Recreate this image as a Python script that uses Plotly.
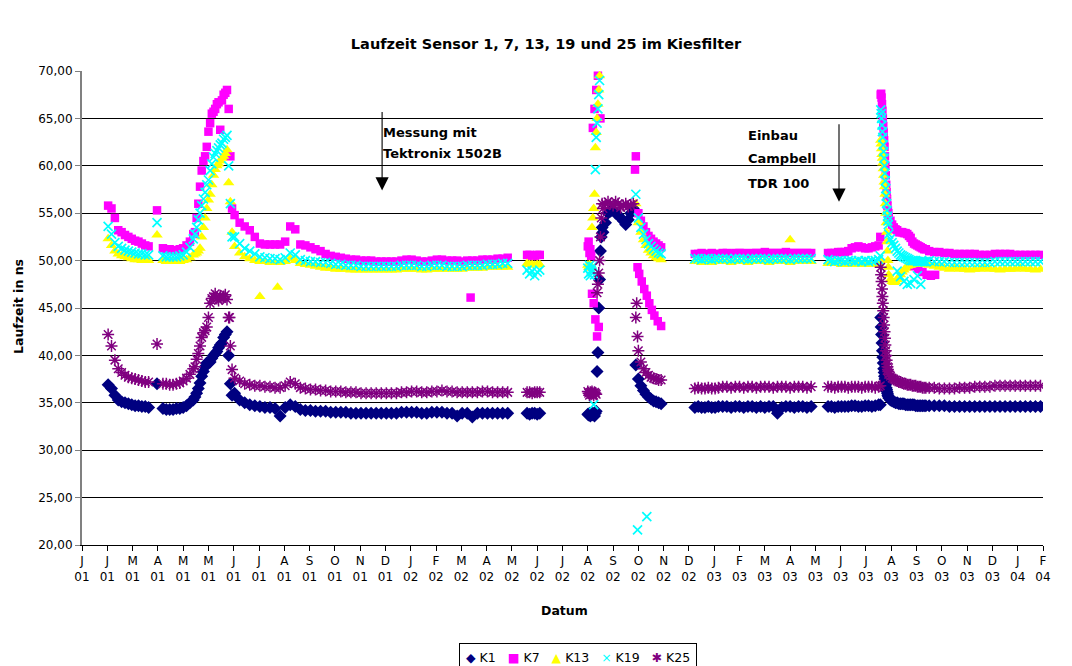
import pandas as pd
import plotly.graph_objects as go

# Measurement campaigns: first reading and reading interval of each block.
CAMPAIGN_START = ["2001-02-01", "2001-03-31", "2001-04-07", "2001-05-15", "2001-07-01",
                  "2002-06-13", "2002-08-24", "2002-09-11", "2002-12-29", "2003-01-31",
                  "2003-06-05", "2003-08-06", "2003-08-16", "2003-10-03"]
CAMPAIGN_STEP = ["4D", "1D", "4D", "2D", "6D", "3D", "1D", "3D", "4D", "5D", "4D", "12h", "2D", "6D"]

# Laufzeit in ns per sensor, one list per campaign (None = no valid reading)
K1 = [
    [36.9, 36.5, 35.8, 35.3, 35.1, 35.0, 34.9, 34.8, 34.7, 34.7, 34.6, 34.6, 34.5],
    [37.0],
    [34.4, 34.3, 34.3, 34.3, 34.4, 34.4, 34.5, 34.7, 35.0, 35.3],
    [35.6, 36.0, 36.5, 37.1, 37.8, 38.3, 38.8, 39.2, 39.2, 39.3, 39.7, 40.0, 40.2, 40.4, 40.8,
     41.1, 41.3, 41.9, 42.2, 42.5, 40.0, 37.0, 35.8],
    [36.0, 35.3, 35.0, 34.8, 34.7, 34.6, 34.5, 34.5, 34.4, 33.6, 34.5, 34.8, 34.6, 34.3, 34.2,
     34.2, 34.1, 34.1, 34.1, 34.0, 34.0, 34.0, 34.0, 33.9, 33.9, 33.9, 33.9, 33.9, 33.9, 33.9,
     33.9, 33.9, 33.9, 34.0, 34.0, 34.0, 34.0, 33.9, 33.9, 34.0, 34.0, 34.0, 33.9, 33.9, 33.6,
     33.9, 33.9, 33.5, 33.9, 33.9, 33.9, 33.9, 33.9, 33.9, 33.9],
    [33.9, 33.8, 33.9, 33.9, 33.8, 33.9],
    [33.8, 33.7, 33.9, 33.6, 33.8, 33.7, 33.9, 33.8, 33.6, 33.9, 34.1, 38.3, 40.3, 45.0, 48.0,
     51.0, 52.5, 53.5],
    [53.0, 54.0, 55.0, 55.2, 55.3, 55.0, 54.8, 54.5, 54.2, 53.8, 54.3, 55.0, 55.5, 39.0, 37.5,
     36.8, 36.3, 35.9, 35.6, 35.4, 35.2, 35.1, 35.0, 34.9],
    [34.5, 34.6, 34.5, 34.5, 34.6, 34.5, 34.5, 34.6],
    [34.6, 34.6, 34.5, 34.6, 34.6, 34.5, 34.6, 34.6, 34.5, 34.6, 34.5, 34.6, 34.6, 33.9, 34.5,
     34.6, 34.6, 34.5, 34.6, 34.6, 34.5, 34.6],
    [34.6, 34.6, 34.5, 34.6, 34.6, 34.6, 34.6, 34.7, 34.7, 34.6, 34.6, 34.7, 34.7, 34.6, 34.7, 34.8],
    [34.8, 44.0, 43.0, 42.2, 41.3, 40.5, 39.8, 39.2, 38.6, 38.2, 37.8, 37.5, 37.2, 36.9, 36.6,
     36.4, 36.2, 36.0, 35.8, 35.7],
    [35.5, 35.3, 35.2, 35.1, 35.0, 35.0, 34.9, 34.9, 34.9, 34.9, 34.8, 34.8, 34.8, 34.8, 34.8,
     34.8, 34.7, 34.7, 34.7, 34.7, 34.7, 34.7, 34.7],
    [34.7, 34.7, 34.7, 34.7, 34.6, 34.6, 34.6, 34.6, 34.6, 34.6, 34.6, 34.6, 34.6, 34.6, 34.6,
     34.6, 34.6, 34.6, 34.6, 34.6, 34.6, 34.6, 34.6],
]

K7 = [
    [55.8, 55.5, 54.5, 53.2, 53.0, 52.7, 52.5, 52.3, 52.1, 52.0, 51.8, 51.6, 51.5],
    [55.3],
    [51.3, 51.2, 51.2, 51.1, 51.1, 51.2, 51.3, 51.6, 52.0, 52.8],
    [53.0, 54.5, 56.0, 57.8, 59.5, 60.5, 61.0, 62.0, 63.6, 64.5, 65.5, 65.7, 66.0, 66.5, 66.7,
     63.8, 66.9, 67.5, 67.7, 68.0, 66.0, 61.0, 55.5],
    [54.8, 54.0, 53.6, 53.2, 52.5, 51.8, 51.7, 51.7, 51.7, 51.7, 52.0, 53.6, 53.3, 51.7, 51.6,
     51.4, 51.2, 51.0, 50.7, 50.5, 50.4, 50.3, 50.2, 50.1, 50.1, 50.0, 50.0, 50.0, 49.9, 49.9,
     49.9, 49.9, 49.9, 50.0, 50.1, 50.1, 50.0, 49.9, 49.9, 50.0, 50.1, 50.1, 50.0, 50.0, 50.0,
     49.9, 50.0, 50.0, 50.0, 50.1, 50.1, 50.1, 50.2, 50.2, 50.3],
    [50.6, 50.6, 50.5, 50.5, 50.6, 50.6],
    [51.5, 52.0, 50.8, 51.2, 50.5, 46.5, 64.0, 45.5, 66.0, 43.8, 68.0, 42.0, 69.5, 43.0, 70.5,
     65.0, None, None],
    [None, None, None, None, None, None, None, None, None, None, None, None, None, 61.0, 55.0,
     54.2, 53.6, 53.0, 52.6, 52.3, 52.0, 51.8, 51.6, 51.4],
    [50.7, 50.7, 50.8, 50.7, 50.7, 50.8, 50.7, 50.7],
    [50.8, 50.8, 50.7, 50.8, 50.8, 50.8, 50.7, 50.8, 50.8, 50.8, 50.9, 50.8, 50.8, 50.8, 50.8,
     50.9, 50.8, 50.8, 50.8, 50.8, 50.8, 50.8],
    [50.8, 50.8, 50.8, 50.9, 50.9, 50.9, 51.0, 51.3, 51.4, 51.5, 51.4, 51.3, 51.3, 51.4, 51.5, 51.6],
    [52.5, 67.5, 67.6, 67.2, 66.5, 65.8, 65.0, 64.2, 63.5, 62.7, 62.0, 61.0, 60.0, 59.0, 58.0,
     57.2, 56.5, 55.8, 55.3, 55.0],
    [54.6, 54.2, 53.8, 53.5, 53.3, 53.2, 53.0, 53.0, 53.0, 52.9, 52.9, 52.8, 52.6, 52.4, 52.0,
     51.8, 51.7, 51.6, 51.5, 51.4, 51.3, 51.2, 51.2],
    [51.0, 50.9, 50.9, 50.8, 50.8, 50.7, 50.7, 50.7, 50.7, 50.7, 50.6, 50.6, 50.6, 50.7, 50.7,
     50.7, 50.7, 50.6, 50.6, 50.6, 50.6, 50.6, 50.6],
]

K13 = [
    [52.3, 51.6, 51.0, 50.7, 50.5, 50.4, 50.3, 50.2, 50.1, 50.1, 50.0, 50.0, 50.0],
    [52.7],
    [50.0, 49.9, 49.9, 49.9, 49.9, 49.9, 50.0, 50.1, 50.3, 50.6],
    [50.7, 50.8, 51.0, 51.3, 52.5, 53.5, 54.5, 55.5, 56.4, 57.0, 58.0, 59.0, 59.6, 60.0, 60.2,
     60.5, 60.8, 61.0, 61.3, 61.7, 58.2, 56.2, 53.0],
    [51.5, 50.8, 50.4, 50.2, 50.0, 49.9, 49.9, 49.8, 49.8, 49.8, 49.9, 50.2, 50.0, 49.7, 49.6,
     49.5, 49.4, 49.3, 49.2, 49.2, 49.1, 49.1, 49.1, 49.0, 49.0, 49.0, 49.0, 49.0, 49.0, 49.0,
     49.0, 49.0, 49.0, 49.1, 49.1, 49.1, 49.1, 49.0, 49.0, 49.1, 49.1, 49.1, 49.1, 49.1, 49.1,
     49.1, 49.2, 49.2, 49.2, 49.2, 49.3, 49.3, 49.3, 49.3, 49.3],
    [49.7, 49.6, 49.6, 49.5, 49.6, 49.6],
    [49.5, 49.3, 49.6, 49.2, 49.4, 53.5, 54.5, 55.5, 57.0, 61.9, 63.5, 65.0, 66.5, 68.0, 69.5,
     None, None, None],
    [None, None, None, None, None, None, None, None, None, None, None, None, None, 56.0, 54.0,
     53.0, 52.2, 51.6, 51.1, 50.8, 50.5, 50.3, 50.2, 50.1],
    [49.9, 49.9, 49.8, 49.9, 49.9, 49.8, 49.9, 49.9],
    [49.9, 49.9, 49.8, 49.9, 49.9, 49.9, 49.8, 49.9, 49.9, 49.9, 49.9, 49.8, 49.9, 49.9, 49.9,
     49.9, 49.8, 49.9, 49.9, 49.9, 49.9, 49.9],
    [49.7, 49.7, 49.7, 49.7, 49.6, 49.6, 49.6, 49.6, 49.7, 49.7, 49.6, 49.6, 49.6, 49.6, 49.6, 49.7],
    [50.0, 62.7, 62.3, 61.8, 61.2, 60.8, 60.3, 59.7, 59.0, 58.3, 57.8, 57.0, 56.0, 55.0, 54.0,
     53.0, 52.0, 51.0, 50.0, 49.3],
    [48.5, 48.0, 47.8, 47.7, 47.8, 48.0, 48.2, 48.5, 48.8, 49.0, 49.2, 49.4, 49.5, 49.5, 49.6,
     49.6, 49.6, 49.6, 49.6, 49.6, 49.6, 49.6, 49.6],
    [49.5, 49.4, 49.3, 49.2, 49.1, 49.2, 49.1, 49.1, 49.0, 49.1, 49.1, 49.2, 49.1, 49.1, 49.0,
     49.1, 49.1, 49.1, 49.2, 49.1, 49.1, 49.0, 49.1],
]

K19 = [
    [53.6, 52.8, 51.9, 51.5, 51.3, 51.1, 51.0, 50.9, 50.8, 50.7, 50.7, 50.6, 50.6],
    [54.0],
    [50.5, 50.4, 50.4, 50.4, 50.4, 50.5, 50.6, 50.9, 51.4, 52.3],
    [52.8, 53.5, 54.3, 55.0, 55.8, 56.5, 57.2, 58.0, 58.5, 59.5, 60.2, 60.9, 61.3, 61.6, 61.9,
     62.2, 62.4, 62.8, 63.0, 63.2, 60.0, 56.0, 52.5],
    [52.5, 51.8, 51.3, 51.0, 50.7, 50.4, 50.3, 50.2, 50.2, 50.1, 50.3, 50.8, 50.6, 50.1, 50.0,
     49.9, 49.9, 49.8, 49.8, 49.7, 49.6, 49.6, 49.5, 49.5, 49.5, 49.4, 49.4, 49.4, 49.4, 49.4,
     49.4, 49.4, 49.4, 49.5, 49.5, 49.5, 49.5, 49.4, 49.4, 49.5, 49.5, 49.5, 49.4, 49.4, 49.4,
     49.4, 49.5, 49.5, 49.5, 49.5, 49.6, 49.6, 49.6, 49.7, 49.7],
    [49.0, 48.6, 48.9, 48.4, 48.8, 49.0],
    [49.2, 48.6, 49.5, 48.4, 49.0, 48.8, 49.4, 34.8, 48.5, 59.6, 63.0, 64.5, 66.0, 67.5, 69.0,
     None, None, None],
    [None, None, None, None, None, None, None, None, None, None, None, None, None, 57.0, 54.5,
     53.5, 52.8, 52.2, 51.8, 51.5, 51.2, 51.0, 50.8, 50.7],
    [50.2, 50.2, 50.1, 50.2, 50.2, 50.1, 50.2, 50.2],
    [50.2, 50.2, 50.1, 50.2, 50.2, 50.2, 50.1, 50.2, 50.2, 50.2, 50.2, 50.1, 50.2, 50.2, 50.2,
     50.2, 50.1, 50.2, 50.2, 50.2, 50.2, 50.2],
    [50.1, 50.0, 49.9, 50.0, 50.0, 49.9, 50.0, 50.0, 49.9, 50.0, 49.9, 50.0, 49.9, 50.0, 50.0, 50.1],
    [50.5, 65.9, 65.5, 65.0, 64.3, 63.6, 63.0, 62.2, 61.5, 60.8, 60.0, 59.2, 58.4, 57.6, 56.8,
     56.0, 55.3, 54.7, 54.2, 53.8],
    [52.8, 52.3, 51.9, 51.6, 51.3, 51.0, 50.8, 50.6, 50.5, 50.4, 50.3, 50.2, 50.1, 50.0, 50.0,
     50.0, 50.0, 49.9, 49.9, 49.9, 49.9, 49.9, 49.9],
    [50.0, 49.9, 49.9, 49.9, 49.8, 49.8, 49.8, 49.8, 49.8, 49.8, 49.8, 49.8, 49.8, 49.9, 49.9,
     49.9, 49.9, 49.9, 49.9, 49.9, 49.9, 49.9, 49.9],
]

K25 = [
    [42.2, 41.0, 39.5, 38.6, 38.2, 37.9, 37.7, 37.6, 37.5, 37.4, 37.3, 37.2, 37.2],
    [41.2],
    [37.0, 37.0, 36.9, 36.9, 37.0, 37.1, 37.3, 37.6, 38.0, 38.6],
    [38.8, 39.6, 40.2, 41.0, 41.9, 42.4, 42.6, 43.0, 44.0, 45.5, 46.0, 46.2, 46.5, 46.0, 45.8,
     46.3, 46.0, 46.2, 46.4, 45.9, 44.0, 41.0, 38.5],
    [37.6, 37.3, 37.0, 36.9, 36.8, 36.8, 36.7, 36.7, 36.6, 36.6, 36.8, 37.2, 37.0, 36.6, 36.5,
     36.4, 36.4, 36.3, 36.3, 36.2, 36.2, 36.2, 36.1, 36.1, 36.1, 36.0, 36.0, 36.0, 36.0, 36.0,
     36.0, 36.0, 36.0, 36.1, 36.1, 36.2, 36.2, 36.1, 36.1, 36.2, 36.2, 36.3, 36.2, 36.2, 36.1,
     36.1, 36.1, 36.1, 36.1, 36.2, 36.2, 36.1, 36.1, 36.1, 36.1],
    [36.1, 36.1, 36.0, 36.1, 36.1, 36.1],
    [36.2, 36.0, 35.8, 36.1, 35.9, 36.2, 36.0, 35.8, 36.1, 36.0, 35.9, 46.6, 47.5, 48.7, 50.0,
     52.5, 54.5, 56.0],
    [55.5, 56.0, 56.2, 56.0, 55.8, 56.2, 56.0, 55.6, 55.8, 56.0, 55.7, 55.9, 56.0, 44.0, 40.5,
     39.3, 38.6, 38.2, 37.9, 37.7, 37.6, 37.5, 37.4, 37.4],
    [36.5, 36.6, 36.5, 36.5, 36.6, 36.5, 36.5, 36.6],
    [36.7, 36.7, 36.6, 36.7, 36.7, 36.6, 36.7, 36.7, 36.6, 36.7, 36.7, 36.7, 36.6, 36.7, 36.7,
     36.7, 36.6, 36.7, 36.7, 36.7, 36.6, 36.7],
    [36.7, 36.7, 36.6, 36.7, 36.7, 36.7, 36.6, 36.7, 36.7, 36.7, 36.6, 36.7, 36.7, 36.7, 36.6, 36.7],
    [36.8, 49.3, 48.5, 47.8, 47.0, 46.2, 45.5, 44.7, 44.0, 43.2, 42.5, 41.8, 41.1, 40.5, 40.0,
     39.5, 39.1, 38.8, 38.5, 38.3],
    [38.0, 37.8, 37.6, 37.5, 37.4, 37.3, 37.2, 37.2, 37.1, 37.0, 37.0, 36.9, 36.9, 36.9, 36.8,
     36.8, 36.8, 36.7, 36.7, 36.7, 36.6, 36.6, 36.6],
    [36.6, 36.6, 36.5, 36.5, 36.5, 36.5, 36.6, 36.6, 36.6, 36.7, 36.7, 36.7, 36.7, 36.8, 36.8,
     36.8, 36.8, 36.8, 36.8, 36.8, 36.8, 36.8, 36.8],
]

# Single readings outside the regular schedule (date, value)
K1_EXTRA = []
K7_EXTRA = [("2002-04-07", 46.1), ("2002-10-19", 59.6),
            ("2002-10-22", 49.3), ("2002-10-24", 48.6), ("2002-10-27", 47.8), ("2002-10-30", 47.0),
            ("2002-11-02", 46.3), ("2002-11-05", 45.5), ("2002-11-08", 44.8), ("2002-11-11", 44.2),
            ("2002-11-15", 43.6), ("2002-11-19", 43.1),
            ("2003-09-15", 49.4), ("2003-09-20", 49.1), ("2003-09-25", 48.8), ("2003-09-30", 48.5),
            ("2003-10-05", 48.4), ("2003-10-10", 48.5)]
K13_EXTRA = [("2001-07-31", 46.2), ("2001-08-21", 47.2), ("2003-04-21", 52.2)]
K19_EXTRA = [("2002-10-22", 21.6), ("2002-11-02", 23.0),
             ("2003-08-26", 48.9), ("2003-08-30", 48.3), ("2003-09-03", 47.8), ("2003-09-07", 47.5),
             ("2003-09-11", 47.6), ("2003-09-15", 48.0), ("2003-09-19", 48.4), ("2003-09-23", 47.5)]
K25_EXTRA = [("2001-06-25", 44.0), ("2002-10-21", 45.5), ("2002-10-22", 42.0)]

# Axis ticks: one every 30 days starting 1 Jan 2001
TICK_LABELS = ["J<br>01", "J<br>01", "M<br>01", "A<br>01", "M<br>01", "M<br>01", "J<br>01",
               "J<br>01", "A<br>01", "S<br>01", "O<br>01", "N<br>01", "D<br>01", "J<br>02",
               "F<br>02", "M<br>02", "A<br>02", "M<br>02", "J<br>02", "J<br>02", "A<br>02",
               "S<br>02", "O<br>02", "N<br>02", "D<br>02", "J<br>03", "F<br>03", "M<br>03",
               "A<br>03", "M<br>03", "J<br>03", "J<br>03", "A<br>03", "S<br>03", "O<br>03",
               "N<br>03", "D<br>03", "J<br>04", "F<br>04"]
TICK_VALS = pd.date_range("2001-01-01", periods=len(TICK_LABELS), freq="30D")
X_RANGE = ["2001-01-01", "2004-02-15"]

# Instrument changes marked on the chart
EVENT_TEKTRONIX = "2001-12-23"
EVENT_CAMPBELL = "2003-06-18"

FONT = "'DejaVu Sans', Arial, sans-serif"
NBSP = "\u00a0"


def collect(blocks, extra):
    xs, ys = [], []
    for start, step, vals in zip(CAMPAIGN_START, CAMPAIGN_STEP, blocks):
        dates = pd.date_range(start, periods=len(vals), freq=step)
        for d, v in zip(dates, vals):
            if v is not None:
                xs.append(d)
                ys.append(v)
    for d, v in extra:
        xs.append(pd.Timestamp(d))
        ys.append(v)
    return xs, ys


SERIES = [
    ("K1", K1, K1_EXTRA, "#000080", "diamond", 10, 0, "◆"),
    ("K7", K7, K7_EXTRA, "#FF00FF", "square", 8.5, 0, "■"),
    ("K13", K13, K13_EXTRA, "#FFFF00", "triangle-up", 10, 0, "▲"),
    ("K19", K19, K19_EXTRA, "#00FFFF", "x-thin", 9, 1.7, "×"),
    ("K25", K25, K25_EXTRA, "#800080", "asterisk", 10, 1.5, "✱"),
]

fig = go.Figure()
for name, blocks, extra, color, symbol, size, lw, _ in SERIES:
    xs, ys = collect(blocks, extra)
    fig.add_trace(go.Scatter(
        x=xs, y=ys, mode="markers", name=name, showlegend=False,
        marker=dict(symbol=symbol, size=size, color=color,
                    line=dict(color=color, width=lw)),
    ))

fig.update_layout(
    template="none",
    width=1072, height=666,
    margin=dict(l=82, r=29, t=71, b=121, autoexpand=False),
    paper_bgcolor="white", plot_bgcolor="white",
    separators=",.",
    font=dict(family=FONT, size=12, color="black"),
    title=dict(text="<b>Laufzeit Sensor 1, 7, 13, 19 und 25 im Kiesfilter</b>",
               x=546 / 1072, xanchor="center", y=1 - 44 / 666, yanchor="middle",
               font=dict(size=14.5, family=FONT)),
    showlegend=False,
    xaxis=dict(type="date", range=X_RANGE, tickmode="array", tickvals=TICK_VALS,
               ticktext=TICK_LABELS, ticks="outside", ticklen=5, tickcolor="black",
               showline=True, linecolor="black", linewidth=1, showgrid=False,
               zeroline=False, automargin=False, tickfont=dict(size=12)),
    yaxis=dict(range=[20, 70], dtick=5, tick0=20, tickformat=".2f", ticks="outside",
               ticklen=5, tickcolor="#808080", showline=True, linecolor="#808080",
               linewidth=2, showgrid=True, gridcolor="black", gridwidth=1,
               zeroline=False, automargin=False, tickfont=dict(size=12)),
)

# Axis titles
fig.add_annotation(text="<b>Datum</b>", xref="paper", yref="paper", x=(564 - 82) / 961,
                   y=(545 - 610) / 474, showarrow=False, font=dict(size=12.5),
                   xanchor="center", yanchor="middle")
fig.add_annotation(text="<b>Laufzeit in ns</b>", xref="paper", yref="paper",
                   x=(18 - 82) / 961, y=(545 - 307) / 474, textangle=-90, showarrow=False,
                   font=dict(size=12.5), xanchor="center", yanchor="middle")

# Legend box with the series symbols
legend_text = (NBSP * 3).join('<span style="color:%s">%s</span>%s%s' % (c, sym, NBSP, n)
                              for n, _, _, c, _, _, _, sym in SERIES)
fig.add_annotation(text=legend_text, xref="paper", yref="paper",
                   x=(578 - 82) / 961, y=(545 - 657) / 474, showarrow=False,
                   xanchor="center", yanchor="middle", font=dict(size=12.5),
                   bordercolor="black", borderwidth=1, borderpad=6, bgcolor="white")

# Labels for the instrument changes
for i, line in enumerate(["Messung mit", "Tektronix 1502B"]):
    fig.add_annotation(text="<b>%s</b>" % line, xref="paper", yref="paper",
                       x=(381 - 82) / 961, y=(545 - (133 + 20 * i)) / 474,
                       showarrow=False, xanchor="left", yanchor="middle",
                       font=dict(size=13))
for i, line in enumerate(["Einbau", "Campbell", "TDR 100"]):
    fig.add_annotation(text="<b>%s</b>" % line, xref="paper", yref="paper",
                       x=(746 - 82) / 961, y=(545 - (135 + 24 * i)) / 474,
                       showarrow=False, xanchor="left", yanchor="middle",
                       font=dict(size=13))

fig.add_annotation(x=EVENT_TEKTRONIX, y=57.4, ax=0, ay=-80, text="", showarrow=True,
                   arrowhead=2, arrowsize=2.4, arrowwidth=1.1, arrowcolor="black")
fig.add_annotation(x=EVENT_CAMPBELL, y=56.2, ax=0, ay=-79, text="", showarrow=True,
                   arrowhead=2, arrowsize=2.4, arrowwidth=1.1, arrowcolor="black")

fig.write_html("out.html")
